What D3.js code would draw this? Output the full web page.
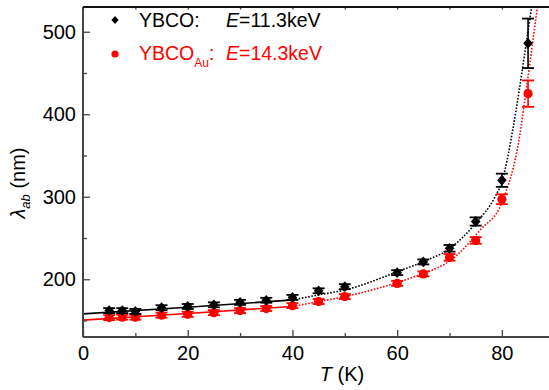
<!DOCTYPE html>
<html>
<head>
<meta charset="utf-8">
<script src="https://cdn.jsdelivr.net/npm/d3@7"></script>
<style>
  body { margin: 0; background: #fff; }
  text { font-family: "Liberation Sans", Arial, Helvetica, sans-serif; }
</style>
</head>
<body>
<svg width="549" height="390"></svg>
<script>
// measured points, T in K, lambda_ab in nm
const temps = [5, 7.5, 10, 15, 20, 25, 30, 35, 40, 45, 50, 60, 65, 70, 75, 80, 85]
const ybco = [162, 162, 161, 165.5, 167, 169, 172, 174.5, 178, 186, 191, 208, 221, 237.5, 270, 320, 486]
const ybcoErr = [3, 3, 3, 3, 3, 3, 3, 3, 3, 3, 3, 3, 3, 4, 5, 8, 30]
const ybcoAu = [153.5, 154, 154, 156.5, 157.5, 159.5, 162, 164.5, 168, 173, 179, 195, 206.5, 226.5, 247, 297, 425]
const ybcoAuErr = [3, 3, 3, 3, 3, 3, 3, 3, 3, 3, 3, 3, 3, 4, 4, 6, 16]

// fit curves
const fitT = [0, 20, 40, 45, 50, 60, 65, 70, 75, 78.7, 80, 82.1, 84.65, 85.7]
const fitYbco = [158, 166, 175, 181, 187, 209, 221.5, 237, 268, 300, 318, 382, 486, 531]
const fitAuT = [0, 20, 40, 45, 50, 60, 65, 67.6, 70, 75.9, 80, 83.45, 84.55, 86.8]
const fitAu = [150.5, 158.5, 167, 173, 179, 196, 207, 213.5, 222, 260, 293, 376, 425, 531]

const xMajor = [0, 20, 40, 60, 80]
const xMinor = [10, 30, 50, 70]
const yMajor = [200, 300, 400, 500]
const yMinor = [150, 250, 350, 450]

const svg = d3.select('svg')
const m = {left: 83, right: 549, top: 7, bottom: 337}
const axisColor = '#444'

const x = d3.scaleLinear().domain([0, 89]).range([m.left, m.right])
const y = d3.scaleLinear().domain([130, 530]).range([m.bottom, m.top])

svg.append('defs').append('clipPath').attr('id', 'plot')
  .append('rect').attr('x', m.left).attr('y', m.top).attr('width', m.right - m.left).attr('height', m.bottom - m.top)

// fits
const line = d3.line().x(d => x(d[0])).y(d => y(d[1])).curve(d3.curveMonotoneX)
const fits = [
  {t: fitT, v: fitYbco, color: '#000'},
  {t: fitAuT, v: fitAu, color: '#ff0000'}
]
const fg = svg.append('g').attr('clip-path', 'url(#plot)')
fits.forEach(f => {
  const pts = f.t.map((t, i) => [t, f.v[i]])
  fg.append('path').attr('d', line(pts.filter(p => p[0] <= 40)))
    .attr('fill', 'none').attr('stroke', f.color).attr('stroke-width', 1.6)
  fg.append('path').attr('d', line(pts.filter(p => p[0] >= 40)))
    .attr('fill', 'none').attr('stroke', f.color).attr('stroke-width', 1.6)
    .attr('stroke-dasharray', '1.6,1.6')
})

// error bars + markers
const series = [
  {v: ybcoAu, e: ybcoAuErr, color: '#ff0000', shape: 'circle'},
  {v: ybco, e: ybcoErr, color: '#000', shape: 'diamond'}
]
const diamond = (cx, cy, w, h) => `M${cx},${cy - h}L${cx + w},${cy}L${cx},${cy + h}L${cx - w},${cy}Z`
series.forEach(s => {
  const g = svg.append('g')
  temps.forEach((t, i) => {
    const cx = x(t), y1 = y(s.v[i] + s.e[i]), y2 = y(s.v[i] - s.e[i])
    g.append('line').attr('x1', cx).attr('x2', cx).attr('y1', y1).attr('y2', y2)
      .attr('stroke', s.color).attr('stroke-width', 1.6)
    ;[y1, y2].forEach(yy => g.append('line').attr('x1', cx - 6).attr('x2', cx + 6)
      .attr('y1', yy).attr('y2', yy).attr('stroke', s.color).attr('stroke-width', 1.8))
    if (s.shape === 'circle') {
      g.append('circle').attr('cx', cx).attr('cy', y(s.v[i])).attr('r', 4.6).attr('fill', s.color)
    } else {
      g.append('path').attr('d', diamond(cx, y(s.v[i]), 4.8, 5.4)).attr('fill', s.color)
    }
  })
})

// axes
const styleAxis = g => {
  g.select('.domain').remove()
  g.selectAll('line').attr('stroke', axisColor).attr('stroke-width', 1.3)
  g.selectAll('text').attr('font-size', 20).attr('fill', '#000')
    .attr('font-family', '"Liberation Sans", Arial, sans-serif')
}
svg.append('g').attr('transform', `translate(0,${m.bottom})`)
  .call(d3.axisBottom(x).tickValues(xMajor).tickSize(-7).tickPadding(9)).call(styleAxis)
svg.append('g').attr('transform', `translate(0,${m.bottom})`)
  .call(d3.axisBottom(x).tickValues(xMinor).tickSize(-4).tickFormat('')).call(styleAxis)
svg.append('g').attr('transform', `translate(${m.left},0)`)
  .call(d3.axisLeft(y).tickValues(yMajor).tickSize(-7).tickPadding(7)).call(styleAxis)
svg.append('g').attr('transform', `translate(${m.left},0)`)
  .call(d3.axisLeft(y).tickValues(yMinor).tickSize(-4).tickFormat('')).call(styleAxis)
svg.append('g').attr('transform', `translate(0,${m.top})`)
  .call(d3.axisTop(x).tickValues(xMajor.concat(xMinor)).tickSize(-2.5).tickFormat('')).call(styleAxis)

// frame lines
svg.append('line').attr('x1', m.left).attr('x2', m.right).attr('y1', m.bottom).attr('y2', m.bottom)
  .attr('stroke', axisColor).attr('stroke-width', 2)
svg.append('line').attr('x1', m.left).attr('x2', m.left).attr('y1', m.top).attr('y2', m.bottom)
  .attr('stroke', axisColor).attr('stroke-width', 2)
svg.append('line').attr('x1', m.left).attr('x2', m.right).attr('y1', m.top).attr('y2', m.top)
  .attr('stroke', '#111').attr('stroke-width', 2)

// axis titles
const xt = svg.append('text').attr('x', 342).attr('y', 381).attr('text-anchor', 'middle').attr('font-size', 20)
xt.append('tspan').attr('font-style', 'italic').text('T')
xt.append('tspan').text(' (K)')

const yt = svg.append('text').attr('transform', 'translate(25,183) rotate(-90)')
  .attr('text-anchor', 'middle').attr('font-size', 20)
yt.append('tspan').attr('font-style', 'italic').text('λ')
yt.append('tspan').attr('font-style', 'italic').attr('font-size', 13).attr('dy', 5).text('ab')
yt.append('tspan').attr('dy', -5).text(' (nm)')

// legend
const lg = svg.append('g')
lg.append('path').attr('d', diamond(115, 20, 3.6, 4)).attr('fill', '#000')
const l1 = lg.append('text').attr('y', 26.5).attr('font-size', 19.5)
l1.append('tspan').attr('x', 139).text('YBCO:')
l1.append('tspan').attr('x', 226).attr('font-style', 'italic').text('E')
l1.append('tspan').text('=11.3keV')

lg.append('circle').attr('cx', 115).attr('cy', 54).attr('r', 3.6).attr('fill', '#ff0000')
const l2 = lg.append('text').attr('y', 60).attr('font-size', 19.5).attr('fill', '#ff0000')
l2.append('tspan').attr('x', 139).text('YBCO')
l2.append('tspan').attr('font-size', 12).attr('dy', 7).text('Au')
l2.append('tspan').attr('dy', -7).text(':')
l2.append('tspan').attr('x', 226).attr('font-style', 'italic').text('E')
l2.append('tspan').text('=14.3keV')
</script>
</body>
</html>
